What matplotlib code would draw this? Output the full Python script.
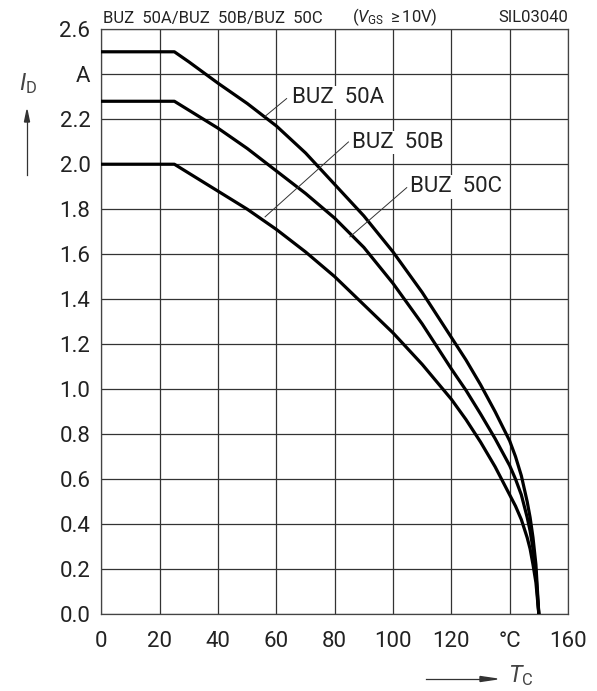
import numpy as np
import matplotlib.pyplot as plt

plt.rcParams['font.family'] = ['Roboto', 'DejaVu Sans']
plt.rcParams['mathtext.fontset'] = 'custom'
plt.rcParams['mathtext.rm'] = 'Roboto'
plt.rcParams['mathtext.it'] = 'Roboto:italic'

# case temperature (degC) and drain current (A)
tc = [0, 25, 30, 40, 50, 60, 70, 80, 90, 100, 110, 120, 125, 130, 135, 140, 142, 144, 146, 147, 148, 149, 150]
id_a = [2.5, 2.5, 2.455, 2.36, 2.27, 2.17, 2.05, 1.91, 1.77, 1.61, 1.43, 1.23, 1.13, 1.02, 0.90, 0.77,
        0.70, 0.615, 0.50, 0.43, 0.34, 0.22, 0.0]
id_b = [2.28, 2.28, 2.24, 2.16, 2.07, 1.97, 1.87, 1.76, 1.63, 1.47, 1.29, 1.09, 0.995, 0.89, 0.78, 0.66,
        0.60, 0.53, 0.43, 0.37, 0.29, 0.18, 0.0]
id_c = [2.0, 2.0, 1.96, 1.88, 1.80, 1.71, 1.61, 1.50, 1.375, 1.25, 1.11, 0.955, 0.865, 0.765, 0.655, 0.53,
        0.48, 0.42, 0.34, 0.29, 0.22, 0.14, 0.0]

xticks = [0, 20, 40, 60, 80, 100, 120, 140, 160]
xlabels = ['0', '20', '40', '60', '80', '100', '120', '°C', '160']
yticks = np.round(np.arange(0, 2.61, 0.2), 1)
ylabels = ['%.1f' % v for v in yticks]
ylabels[12] = 'A'

fig = plt.figure(figsize=(5.97, 6.91), dpi=100)
ax = fig.add_axes([0.170, 0.1114, 0.9514 - 0.170, 0.9576 - 0.1114])

for y in (id_a, id_b, id_c):
    ax.plot(tc, y, color='black', lw=2.3, solid_joinstyle='round', zorder=3)

ax.set_xlim(0, 160)
ax.set_ylim(0, 2.6)
ax.set_xticks(xticks)
ax.set_xticklabels(xlabels)
ax.set_yticks(yticks)
ax.set_yticklabels(ylabels)
ax.grid(True, color='#333333', lw=0.9)
ax.tick_params(length=0, labelsize=16, colors='#222222', pad=8)
ax.tick_params(axis='x', pad=12)
for s in ax.spines.values():
    s.set_color('#444444')
    s.set_linewidth(0.9)

# curve labels with leader lines
leaders = [((56.1, 2.213), (63.5, 2.292), (65.2, 2.296), 'BUZ  50A'),
           ((56.1, 1.766), (84.7, 2.099), (85.8, 2.097), 'BUZ  50B'),
           ((85.2, 1.677), (104.7, 1.896), (105.8, 1.899), 'BUZ  50C')]
for p0, p1, pt, txt in leaders:
    ax.plot([p0[0], p1[0]], [p0[1], p1[1]], color='#333333', lw=0.7, zorder=4)
    ax.text(pt[0], pt[1], txt, fontsize=16, va='center', ha='left', color='#222222',
            bbox=dict(facecolor='white', edgecolor='none', pad=1), zorder=5)

# header texts
fig.text(103 / 597, 1 - 19 / 691, 'BUZ  50A/BUZ  50B/BUZ  50C', fontsize=12,
         va='center', ha='left', color='#222222')
fig.text(352 / 597, 1 - 17 / 691, r'($V_{\rm GS}$ $\geq$10V)', fontsize=12,
         va='center', ha='left', color='#222222')
fig.text(568 / 597, 1 - 18 / 691, 'SIL03040', fontsize=12,
         va='center', ha='right', color='#222222')

# axis names with arrows
fig.text(28 / 597, 1 - 84 / 691, r'$I_{\rm D}$', fontsize=17, ha='center', va='center',
         color='#444444')
fig.add_artist(plt.Line2D([27 / 597, 27 / 597], [1 - 175 / 691, 1 - 118 / 691],
                          color='#333333', lw=0.9))
fig.add_artist(plt.Polygon([[24.5 / 597, 1 - 122 / 691], [29.5 / 597, 1 - 122 / 691],
                            [27 / 597, 1 - 110 / 691]], closed=True, color='#333333'))
fig.text(521 / 597, 1 - 676 / 691, r'$T_{\rm C}$', fontsize=17, ha='center', va='center',
         color='#444444')
fig.add_artist(plt.Line2D([426 / 597, 485 / 597], [1 - 679 / 691, 1 - 679 / 691],
                          color='#333333', lw=0.9))
fig.add_artist(plt.Polygon([[480 / 597, 1 - 676.5 / 691], [480 / 597, 1 - 681.5 / 691],
                            [497 / 597, 1 - 679 / 691]], closed=True, color='#333333'))

fig.savefig('out.png', dpi=100)
